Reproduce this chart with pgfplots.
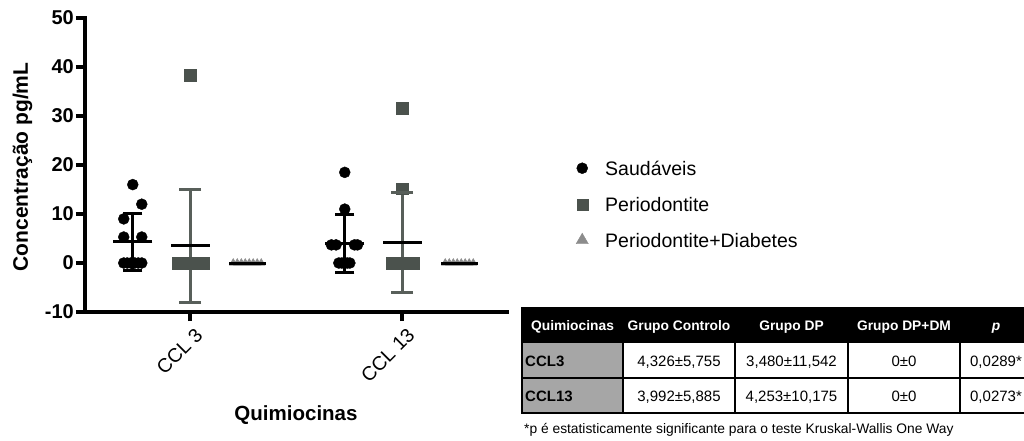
\documentclass[border=0pt]{standalone}
\usepackage{fontspec}
\setmainfont{Liberation Sans}
\usepackage{pgfplots}
\pgfplotsset{compat=1.18}
\definecolor{sq}{RGB}{75,82,77}
\definecolor{sqbar}{RGB}{88,95,90}
\definecolor{tri}{RGB}{140,140,140}
\definecolor{cellgray}{RGB}{166,166,166}
\begin{document}
\begin{tikzpicture}[x=1pt,y=1pt]
\useasboundingbox (0,0) rectangle (1024,-441);
\begin{axis}[
  at={(85pt,-312pt)}, anchor=south west,
  scale only axis, width=422pt, height=294pt,
  xmin=0.5047, xmax=2.4953, ymin=-10, ymax=50,
  clip=false,
  axis x line*=bottom, axis y line*=left,
  axis line style={line width=3.5pt, -, line cap=rect},
  tick align=outside, tick pos=left,
  major tick length=9pt,
  tick style={line width=3.5pt, black},
  xtick={1,2}, xticklabels={CCL 3, CCL 13},
  ytick={-10,0,10,20,30,40,50},
  yticklabels={-10,0,10,20,30,40,50},
  yticklabel style={font=\fontsize{20}{23}\selectfont\bfseries, anchor=east, inner sep=0pt, xshift=-2pt},
  xticklabel style={font=\fontsize{19.5}{22}\selectfont, rotate=45, anchor=east, inner sep=0pt, yshift=-14pt, xshift=-1pt},
  every axis y label/.style={at={(axis description cs:-0.1351,0.4932)}, anchor=base, rotate=90, font=\fontsize{21}{24}\selectfont\bfseries},
  every axis x label/.style={at={(axis description cs:0.5,0)}, anchor=base, yshift=-108pt, font=\fontsize{20.5}{24}\selectfont\bfseries},
  ylabel={Concentração pg/mL},
  xlabel={Quimiocinas},
  legend style={at={(axis description cs:1.1517,0.5136)}, anchor=north west, draw=none, fill=none, inner sep=0pt, row sep=22pt, column sep=0pt, font=\fontsize{19.5}{22}\selectfont, nodes={inner sep=0pt, text height=14pt, text depth=0pt}},
  legend cell align=left,
  legend image code/.code={\path[draw=none,fill=none] (-11pt,-6pt) rectangle (23pt,6pt); \draw[#1] plot coordinates {(0pt,0pt)};},
]
% ---- CCL 3 ----
% Saudaveis
\addplot[forget plot, only marks, mark=*, mark size=5.5pt, black] coordinates {
(0.730,16) (0.7725,12) (0.6875,9) (0.6875,5.3) (0.7725,5.3)
(0.6875,0) (0.704,0) (0.7206,0) (0.7394,0) (0.756,0) (0.7725,0)};
% Periodontite
\addplot[forget plot, only marks, mark=square*, mark size=5.8pt, sq] coordinates {
(1.0,38.3)
(0.9434,0) (0.9566,0) (0.9698,0) (0.983,0) (0.9962,0) (1.0094,0) (1.0226,0) (1.0358,0) (1.049,0) (1.0613,0)};
% Periodontite+Diabetes
\addplot[forget plot, only marks, mark=triangle*, mark size=4.5pt, tri] coordinates {
(1.204,0) (1.223,0) (1.242,0) (1.2606,0) (1.2794,0) (1.298,0) (1.317,0) (1.336,0)};
% ---- CCL 13 ----
\addplot[forget plot, only marks, mark=*, mark size=5.5pt, black] coordinates {
(1.73,18.5) (1.73,11) (1.667,3.7) (1.689,3.7) (1.776,3.7) (1.79,3.7)
(1.702,0) (1.716,0) (1.73,0) (1.742,0) (1.754,0)};
\addplot[forget plot, only marks, mark=square*, mark size=5.8pt, sq] coordinates {
(2.0,31.6) (2.0,15.2)
(1.953,0) (1.965,0) (1.9774,0) (1.9896,0) (2.0019,0) (2.0142,0) (2.0264,0) (2.0387,0) (2.0519,0)};
\addplot[forget plot, only marks, mark=triangle*, mark size=4.5pt, tri] coordinates {
(2.204,0) (2.223,0) (2.242,0) (2.2606,0) (2.2794,0) (2.298,0) (2.317,0) (2.336,0)};
% ---- mean +- SD ----
\addplot[forget plot, black, line width=3pt] coordinates {(0.73,-1.429) (0.73,10.081)};
\addplot[forget plot, black, line width=3pt] coordinates {(1.73,-1.893) (1.73,9.877)};
\addplot[forget plot, sqbar, line width=3pt] coordinates {(1.0,-8.062) (1.0,15.022)};
\addplot[forget plot, sqbar, line width=3pt] coordinates {(2.0,-5.922) (2.0,14.428)};
\addplot[forget plot, only marks, black, mark=-, mark size=9.5pt, mark options={line width=3pt}] coordinates {(0.73,-1.429) (0.73,10.081) (1.73,-1.893) (1.73,9.877)};
\addplot[forget plot, only marks, sqbar, mark=-, mark size=11pt, mark options={line width=3pt}] coordinates {(1.0,-8.062) (1.0,15.022) (2.0,-5.922) (2.0,14.428)};
\addplot[forget plot, only marks, black, mark=-, mark size=19.5pt, mark options={line width=3pt}] coordinates {(0.73,4.326) (1.73,3.992) (1.0,3.480) (2.0,4.253)};
\addplot[forget plot, only marks, black, mark=-, mark size=18.5pt, mark options={line width=3pt}] coordinates {(1.27,0) (2.27,0)};
% legend
\addlegendimage{only marks, mark=*, mark size=5.5pt, black}
\addlegendentry{Saudáveis}
\addlegendimage{only marks, mark=square*, mark size=5.5pt, sq}
\addlegendentry{Periodontite}
\addlegendimage{only marks, mark=triangle*, mark size=7pt, tri}
\addlegendentry{Periodontite+Diabetes}
\end{axis}
% ---- table ----
\fill[black] (522,-308) rectangle (1040,-342);
\fill[cellgray] (522,-342) rectangle (623,-413);
\draw[line width=1.2pt] (522,-308) rectangle (1040,-413);
\draw[line width=1.2pt] (522,-342) -- (1040,-342);
\draw[line width=1.2pt] (522,-378) -- (1040,-378);
\foreach \xx in {623,735,848,960} \draw[line width=1.2pt] (\xx,-342) -- (\xx,-413);
\begin{scope}[every node/.style={anchor=base, inner sep=0pt, text=white, font=\fontsize{13.8}{16}\selectfont\bfseries}]
\node at (572.5,-330) {Quimiocinas};
\node at (679,-330) {Grupo Controlo};
\node at (791.5,-330) {Grupo DP};
\node at (904,-330) {Grupo DP+DM};
\node at (996,-330) {\itshape p};
\end{scope}
\begin{scope}[every node/.style={anchor=base, inner sep=0pt, font=\fontsize{15}{17}\selectfont}]
\node[anchor=base west, font=\fontsize{15}{17}\selectfont\bfseries] at (525,-366) {CCL3};
\node at (679,-366) {4,326±5,755};
\node at (791.5,-366) {3,480±11,542};
\node at (904,-366) {0±0};
\node at (996,-366) {0,0289*};
\node[anchor=base west, font=\fontsize{15}{17}\selectfont\bfseries] at (525,-401) {CCL13};
\node at (679,-401) {3,992±5,885};
\node at (791.5,-401) {4,253±10,175};
\node at (904,-401) {0±0};
\node at (996,-401) {0,0273*};
\end{scope}
\node[anchor=base west, inner sep=0pt, font=\fontsize{13.8}{16}\selectfont] at (524,-433) {*p é estatisticamente significante para o teste Kruskal-Wallis One Way};
\end{tikzpicture}
\end{document}
